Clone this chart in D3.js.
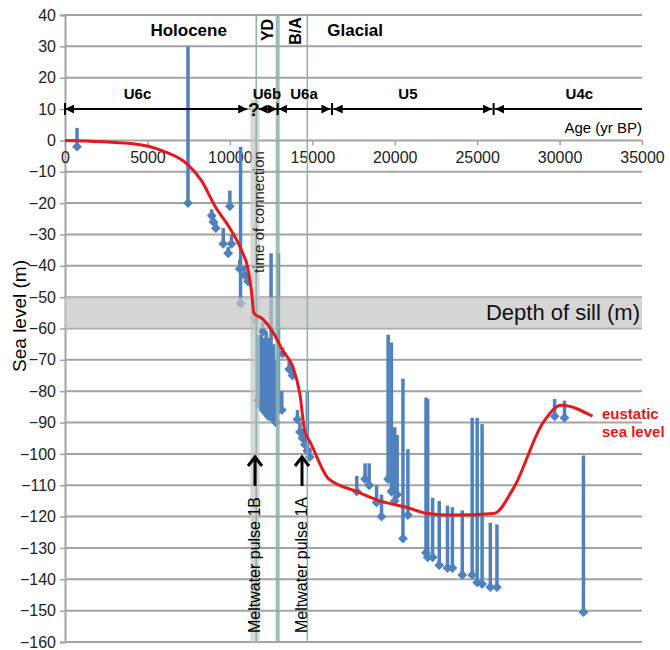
<!DOCTYPE html>
<html>
<head>
<meta charset="utf-8">
<script src="https://cdn.jsdelivr.net/npm/d3@7"></script>
<style>
  body { margin: 0; background: #fff; }
  text { font-family: "Liberation Sans", Arial, sans-serif; }
</style>
</head>
<body>
<div id="chart"></div>
<script>

// Sea level data

// dated samples: age (yr BP), sea level (m), top of the range bar (m)
const sampleAge = [730, 7460, 8900, 9000, 9150, 10000, 9600, 10100, 9900, 10600,
  10650, 10900, 11100, 11500, 12000, 11700, 11900, 12050, 12200, 12350,
  12500, 12650, 12800, 12950, 13150, 13200, 13600, 13800, 14100, 14250,
  14400, 14550, 14700, 14850, 17700, 18200, 18450, 18900, 19200, 19600,
  19800, 20000, 20150, 20500, 20800, 21900, 22000, 22300, 22700, 23200,
  23500, 24100, 24700, 25000, 25300, 25800, 26200, 29700, 30300, 31450];
const sampleLevel = [-2, -20, -24, -26, -28, -21, -33, -33, -36, -41,
  -52, -43, -45, -57, -61, -83, -85, -86, -87, -88,
  -88, -89, -90, -86, -86, -68, -73, -75, -89, -93,
  -95, -97, -99, -101, -112, -108, -110, -115.5, -120, -108,
  -112, -115, -113, -127, -119.5, -131.5, -133, -133, -135.5, -136.4,
  -136.4, -138.6, -138.6, -141, -141.5, -142.5, -142.5, -88, -88.5, -150.5];
const sampleTop = [4, 30, -22, -24, -26, -16, -28, -30, -34, -38,
  -2, -40, -43, -55, -58, -62, -62, -63, -61, -63,
  -36, -65, -70, -36, -80, -66, -70, -73, -86, -90,
  -92, -95, -80, -98, -107, -103, -103, -110, -113, -62,
  -64.5, -91.5, -94, -76, -98.5, -82, -82.5, -114, -115, -116.5,
  -117, -118, -88.5, -88.5, -90.5, -122, -122.5, -82.5, -83, -100.5];

// eustatic sea level curve
const eustAge = [0, 4000, 6000, 7400, 8300, 9100, 10000, 10700, 11100,
  11350, 11450, 12000, 12600, 13200, 13800, 14250, 14550, 14850, 16000,
  17700, 19100, 20700, 22000, 23500, 26000, 27200, 29000, 30100, 32000];
const eustLevel = [0, -1, -3.5, -7.5, -13, -21, -28, -35, -41,
  -50, -55, -57, -61, -67, -72, -81, -93, -96, -108,
  -112, -115, -117, -119, -119.5, -119, -111, -90, -84.5, -88];

// stratigraphic units along the +10 m line
const unitNames = ["U6c", "U6b", "U6a", "U5", "U4c"];
const unitFrom = [0, 11750, 12950, 16300, 26100];
const unitTo = [11050, 12850, 16100, 25900, 35000];
const unitLabelAge = [4400, 12250, 14500, 20800, 31200];
const unitBreaks = [0, 12900, 16200, 26000];

// climate periods
const periodNames = ["Holocene", "Glacial"];
const periodAge = [7500, 17600];
const thinLines = [11600, 14700];
const thickLine = 12900;
const connection = [11250, 11800];
const sill = [-50, -60];

const xTicks = d3.range(0, 35001, 5000);
const yTicks = d3.range(-160, 41, 10);

const width = 670, height = 650;
const margin = {top: 15, right: 28, bottom: 8, left: 65};

const svg = d3.select("#chart")
              .append("svg")
              .attr("width", width)
              .attr("height", height);

const x = d3.scaleLinear()
            .domain([0, 35000])
            .range([margin.left, width - margin.right]);

const y = d3.scaleLinear()
            .domain([-160, 40])
            .range([height - margin.bottom, margin.top]);

const blue = "#4f81bd";
const teal = "#8ab4ac";

// arrow heads for the unit line
const defs = svg.append("defs");
defs.append("marker")
    .attr("id", "head")
    .attr("viewBox", "0 0 10 10")
    .attr("refX", 10).attr("refY", 5)
    .attr("markerUnits", "userSpaceOnUse")
    .attr("markerWidth", 9).attr("markerHeight", 9)
    .attr("orient", "auto-start-reverse")
    .append("path")
    .attr("d", "M0,0 L10,5 L0,10 z")
    .attr("fill", "#000");

// horizontal grid
svg.append("g")
    .selectAll("line")
    .data(yTicks)
    .join("line")
    .attr("x1", x(0)).attr("x2", x(35000))
    .attr("y1", d => y(d)).attr("y2", d => y(d))
    .attr("stroke", "#a3a3a3")
    .attr("stroke-width", 2);

// left axis
const yAxis = svg.append("g")
    .attr("transform", `translate(${x(0)},0)`)
    .call(d3.axisLeft(y).tickValues(yTicks).tickSize(5).tickPadding(4));
yAxis.select(".domain").attr("stroke", "#a3a3a3").attr("stroke-width", 2);
yAxis.selectAll(".tick line").attr("stroke", "#a3a3a3").attr("stroke-width", 1.5);
yAxis.selectAll(".tick text")
    .attr("font-size", "16px")
    .attr("fill", "#222")
    .style("font-family", "'Liberation Sans', Arial, sans-serif");

// age axis on the 0 m line
const xAxis = svg.append("g")
    .attr("transform", `translate(0,${y(0)})`)
    .call(d3.axisBottom(x).tickValues(xTicks).tickFormat(d3.format("d")).tickSize(5).tickPadding(6));
xAxis.select(".domain").remove();
xAxis.selectAll(".tick line").attr("stroke", "#a3a3a3").attr("stroke-width", 1.5);
xAxis.selectAll(".tick text")
    .attr("font-size", "16px")
    .attr("fill", "#222")
    .style("font-family", "'Liberation Sans', Arial, sans-serif");

// range bars and diamonds
const samples = sampleAge.map((a, i) => ({age: a, level: sampleLevel[i], top: sampleTop[i]}));

svg.append("g")
    .selectAll("line")
    .data(samples)
    .join("line")
    .attr("x1", d => x(d.age)).attr("x2", d => x(d.age))
    .attr("y1", d => y(d.top)).attr("y2", d => y(d.level))
    .attr("stroke", blue)
    .attr("stroke-width", 3.5);

svg.append("g")
    .selectAll("path")
    .data(samples)
    .join("path")
    .attr("d", d3.symbol(d3.symbolSquare, 48))
    .attr("transform", d => `translate(${x(d.age)},${y(d.level)}) rotate(45)`)
    .attr("fill", blue);

// depth of sill band and time of connection band
svg.append("rect")
    .attr("x", x(0)).attr("width", x(35000) - x(0))
    .attr("y", y(sill[0])).attr("height", y(sill[1]) - y(sill[0]))
    .attr("fill", "#c4c4c4")
    .attr("opacity", 0.7);

svg.append("rect")
    .attr("x", x(connection[0])).attr("width", x(connection[1]) - x(connection[0]))
    .attr("y", y(13)).attr("height", y(-160) - y(13))
    .attr("fill", "#c4c4c4")
    .attr("opacity", 0.7);

// YD / B/A boundaries
svg.append("g")
    .selectAll("line")
    .data(thinLines)
    .join("line")
    .attr("x1", d => x(d)).attr("x2", d => x(d))
    .attr("y1", y(40)).attr("y2", y(-160))
    .attr("stroke", teal)
    .attr("stroke-width", 1.5);

svg.append("line")
    .attr("x1", x(thickLine)).attr("x2", x(thickLine))
    .attr("y1", y(40)).attr("y2", y(-160))
    .attr("stroke", teal)
    .attr("stroke-width", 4)
    .attr("opacity", 0.85);

// eustatic sea level
const line = d3.line()
    .x((d, i) => x(eustAge[i]))
    .y(d => y(d))
    .curve(d3.curveMonotoneX);

svg.append("path")
    .datum(eustLevel)
    .attr("d", line)
    .attr("fill", "none")
    .attr("stroke", "#e3191c")
    .attr("stroke-width", 3)
    .attr("stroke-linejoin", "round");

svg.append("text")
    .attr("x", 602).attr("y", 419)
    .attr("font-size", "15px").attr("font-weight", "bold")
    .attr("fill", "#e3191c")
    .text("eustatic");
svg.append("text")
    .attr("x", 602).attr("y", 437)
    .attr("font-size", "15px").attr("font-weight", "bold")
    .attr("fill", "#e3191c")
    .text("sea level");

// unit arrows
const units = svg.append("g");
unitNames.forEach((name, i) => {
    const seg = units.append("line")
        .attr("x1", x(unitFrom[i])).attr("x2", x(unitTo[i]))
        .attr("y1", y(10)).attr("y2", y(10))
        .attr("stroke", "#000")
        .attr("stroke-width", 2)
        .attr("marker-start", "url(#head)");
    if (i < unitNames.length - 1) seg.attr("marker-end", "url(#head)");

    units.append("text")
        .attr("x", x(unitLabelAge[i])).attr("y", y(10) - 10)
        .attr("text-anchor", "middle")
        .attr("font-size", "15px").attr("font-weight", "bold")
        .text(name);
});

units.selectAll(".brk")
    .data(unitBreaks)
    .join("line")
    .attr("class", "brk")
    .attr("x1", d => x(d)).attr("x2", d => x(d))
    .attr("y1", y(10) - 6).attr("y2", y(10) + 6)
    .attr("stroke", "#000")
    .attr("stroke-width", 2);

units.append("text")
    .attr("x", x(11450)).attr("y", y(10) + 7)
    .attr("text-anchor", "middle")
    .attr("font-size", "19px").attr("font-weight", "bold")
    .text("?");

svg.append("text")
    .attr("x", x(35000)).attr("y", 133)
    .attr("text-anchor", "end")
    .attr("font-size", "15px")
    .text("Age (yr BP)");

// period labels
periodNames.forEach((name, i) => {
    svg.append("text")
        .attr("x", x(periodAge[i])).attr("y", 36)
        .attr("text-anchor", "middle")
        .attr("font-size", "17px").attr("font-weight", "bold")
        .text(name);
});

svg.append("text")
    .attr("transform", "translate(273,30) rotate(-90)")
    .attr("text-anchor", "middle")
    .attr("font-size", "16px").attr("font-weight", "bold")
    .text("YD");

svg.append("text")
    .attr("transform", "translate(301,31) rotate(-90)")
    .attr("text-anchor", "middle")
    .attr("font-size", "16px").attr("font-weight", "bold")
    .text("B/A");

// band labels
svg.append("text")
    .attr("x", x(35000) - 2).attr("y", y(-55) + 7)
    .attr("text-anchor", "end")
    .attr("font-size", "22px")
    .attr("fill", "#111")
    .text("Depth of sill (m)");

svg.append("text")
    .attr("transform", "translate(264,212) rotate(-90)")
    .attr("text-anchor", "middle")
    .attr("font-size", "15px")
    .attr("fill", "#222")
    .text("time of connection");

// meltwater pulses
const pulses = [{name: "Meltwater pulse 1B", px: 255}, {name: "Meltwater pulse 1A", px: 302}];
pulses.forEach(p => {
    svg.append("text")
        .attr("transform", `translate(${p.px + 5},565) rotate(-90)`)
        .attr("text-anchor", "middle")
        .attr("font-size", "16px")
        .text(p.name);
    svg.append("line")
        .attr("x1", p.px).attr("x2", p.px)
        .attr("y1", 486).attr("y2", 458)
        .attr("stroke", "#000").attr("stroke-width", 3);
    svg.append("path")
        .attr("d", `M${p.px - 7},${466} L${p.px},${457} L${p.px + 7},${466}`)
        .attr("fill", "none")
        .attr("stroke", "#000").attr("stroke-width", 3);
});

// y title
svg.append("text")
    .attr("transform", "translate(26,316) rotate(-90)")
    .attr("text-anchor", "middle")
    .attr("font-size", "19px")
    .text("Sea level (m)");

</script>
</body>
</html>
